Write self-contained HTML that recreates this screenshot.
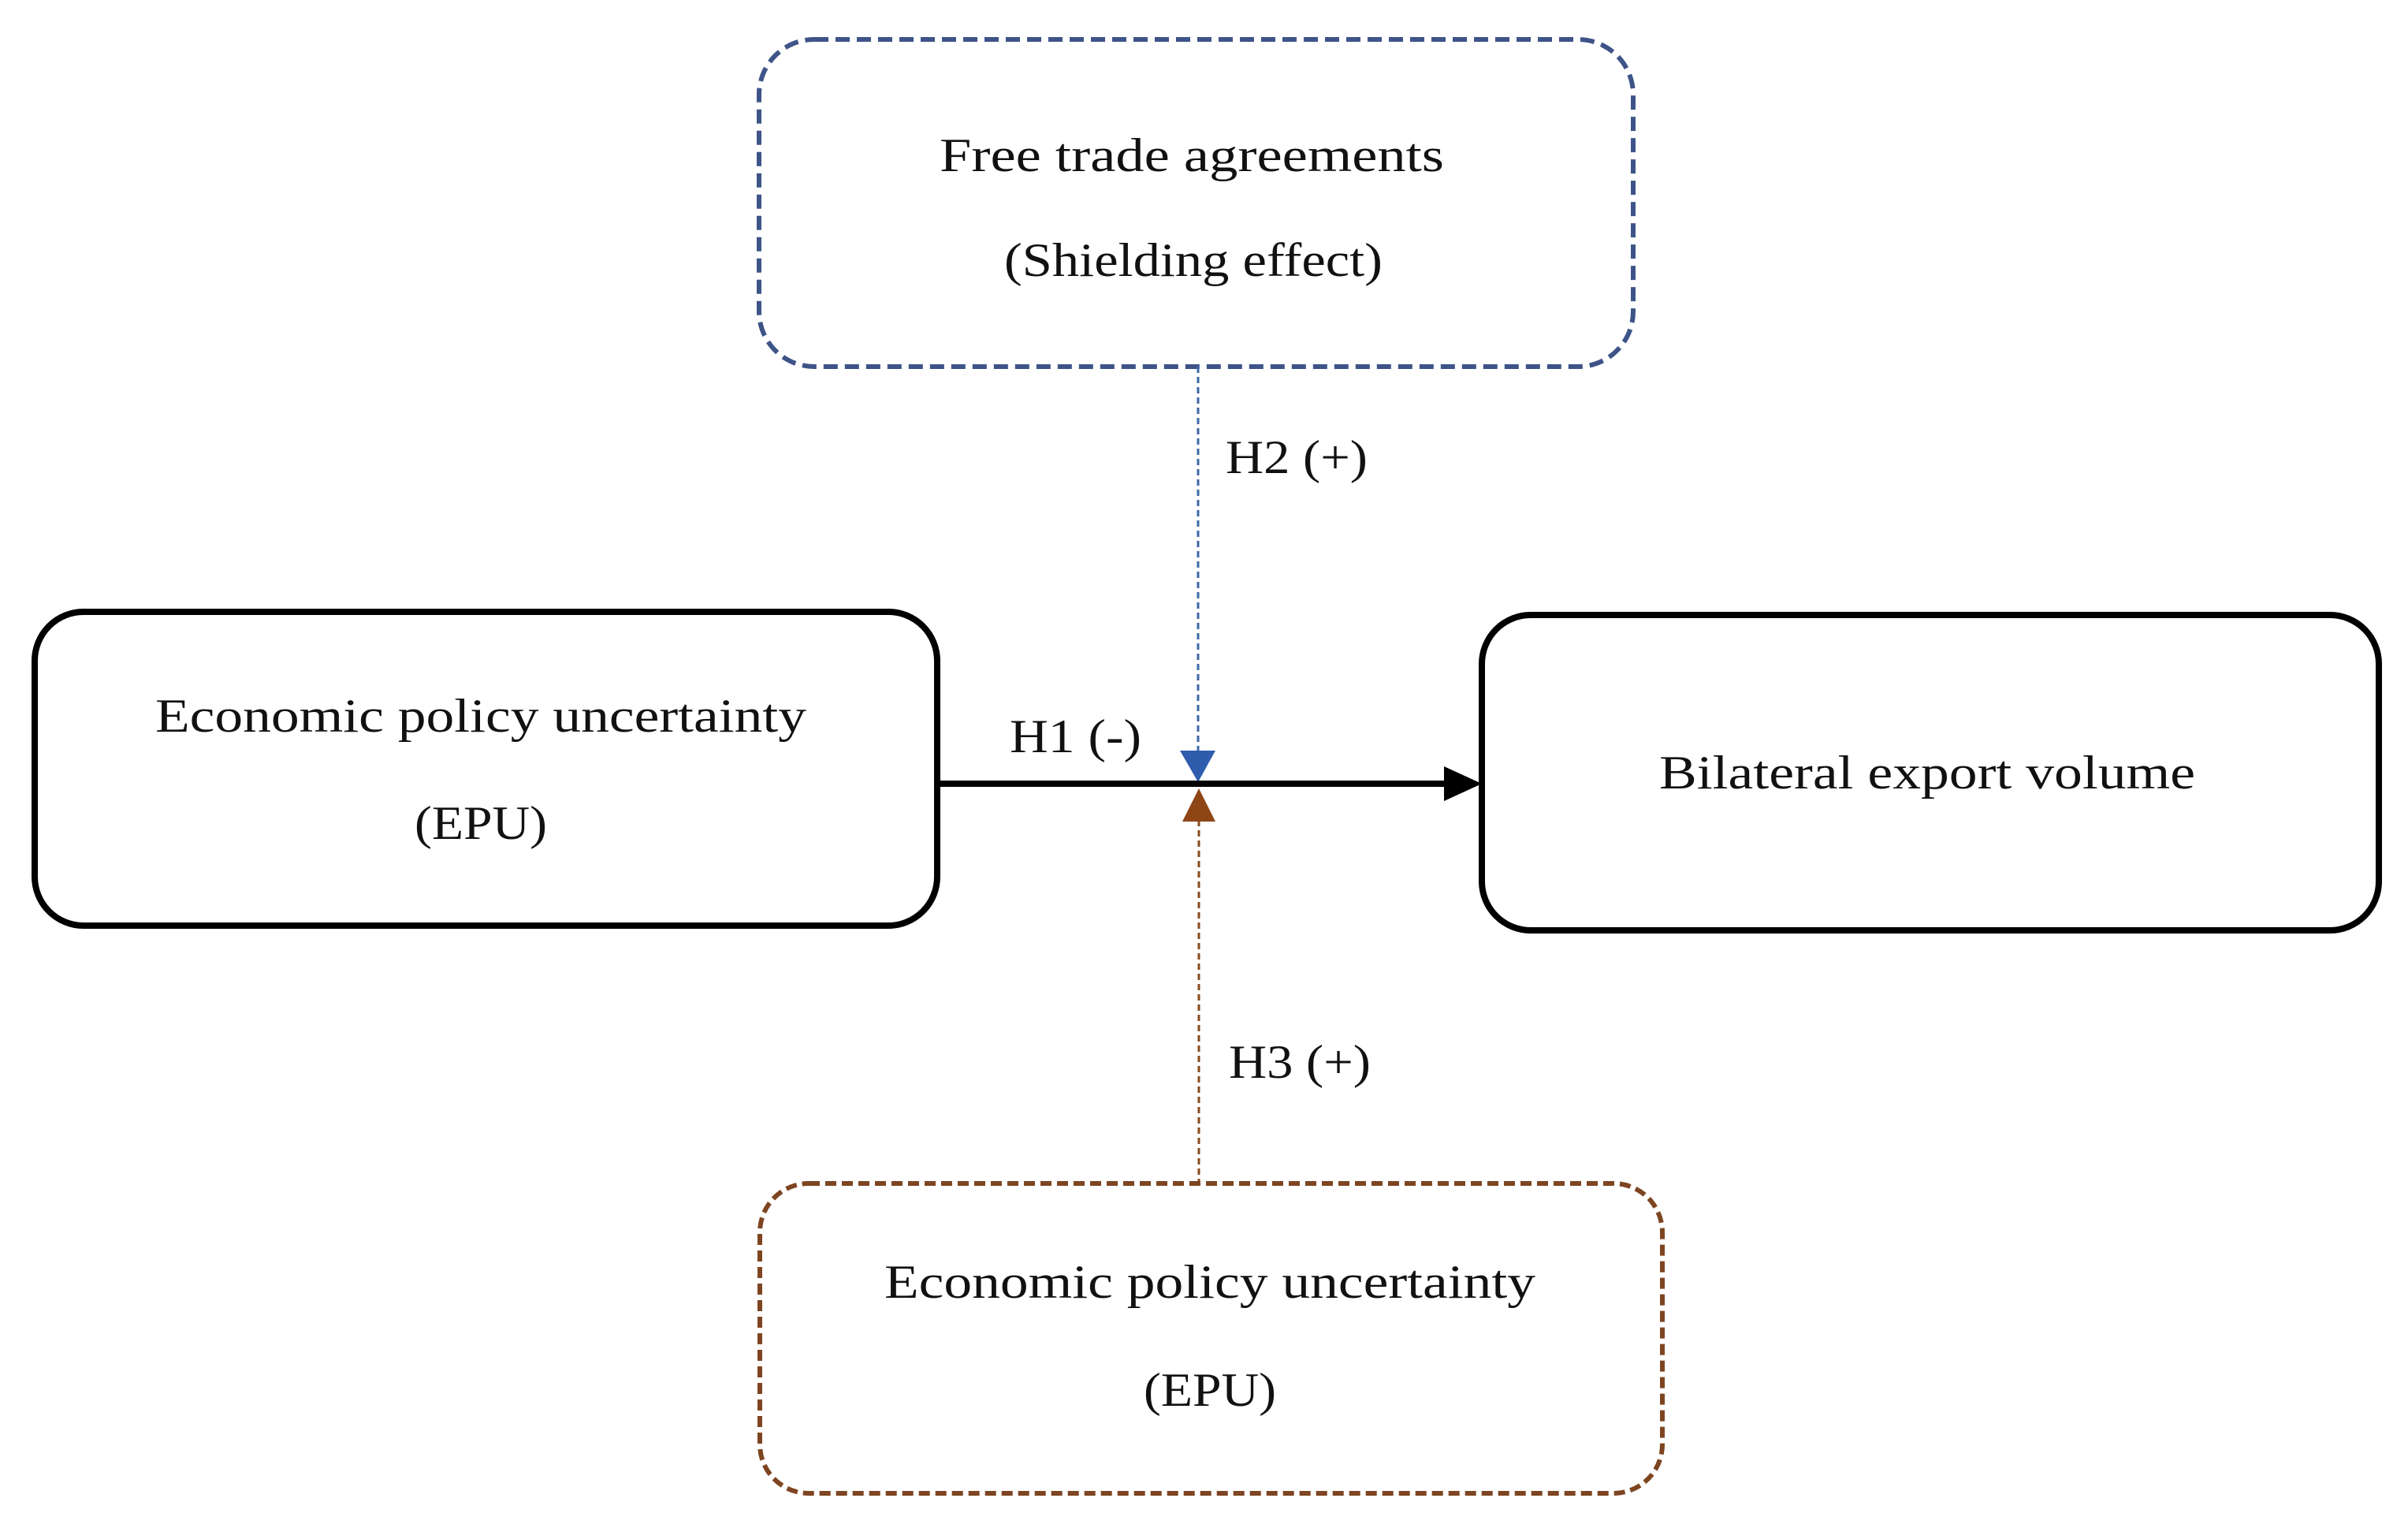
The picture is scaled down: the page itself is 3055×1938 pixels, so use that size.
<!DOCTYPE html>
<html><head><meta charset="utf-8"><style>
html,body{margin:0;padding:0;background:#fff;}
svg{display:block;}
text{font-family:"Liberation Serif",serif;fill:#111;}
</style></head><body>
<svg width="3055" height="1938" viewBox="0 0 3055 1938" xmlns="http://www.w3.org/2000/svg">
<rect width="3055" height="1938" fill="#fff"/>
<rect x="963" y="50" width="1109" height="415" rx="70" fill="none" stroke="#3e5488" stroke-width="6" stroke-dasharray="18,9"/>
<text x="1512" y="217" font-size="60" text-anchor="middle" textLength="640" lengthAdjust="spacingAndGlyphs">Free trade agreements</text>
<text x="1514" y="350" font-size="60" text-anchor="middle" textLength="480" lengthAdjust="spacingAndGlyphs">(Shielding effect)</text>
<line x1="1520" y1="465" x2="1520" y2="955" stroke="#3e68a8" stroke-width="3" stroke-dasharray="8,5"/>
<polygon points="1497,952 1542,952 1520,992" fill="#2f5cad"/>
<text x="1555" y="600" font-size="60" textLength="180" lengthAdjust="spacingAndGlyphs">H2 (+)</text>
<rect x="44" y="776" width="1145" height="398" rx="62" fill="none" stroke="#000" stroke-width="8"/>
<text x="610" y="928" font-size="60" text-anchor="middle" textLength="826" lengthAdjust="spacingAndGlyphs">Economic policy uncertainty</text>
<text x="610" y="1064" font-size="60" text-anchor="middle" textLength="168" lengthAdjust="spacingAndGlyphs">(EPU)</text>
<rect x="1880" y="780" width="1138" height="400" rx="62" fill="none" stroke="#000" stroke-width="8"/>
<text x="2445" y="1000" font-size="60" text-anchor="middle" textLength="680" lengthAdjust="spacingAndGlyphs">Bilateral export volume</text>
<line x1="1189" y1="994" x2="1838" y2="994" stroke="#000" stroke-width="8"/>
<polygon points="1832,972 1880,994 1832,1016" fill="#000"/>
<text x="1281" y="954" font-size="60" textLength="167" lengthAdjust="spacingAndGlyphs">H1 (-)</text>
<line x1="1521" y1="1040" x2="1521" y2="1500" stroke="#8a4a1c" stroke-width="3" stroke-dasharray="8,5"/>
<polygon points="1500,1042 1542,1042 1521,1000" fill="#8e4616"/>
<text x="1559" y="1367" font-size="60" textLength="180" lengthAdjust="spacingAndGlyphs">H3 (+)</text>
<rect x="964" y="1501" width="1145" height="393" rx="62" fill="none" stroke="#7d4521" stroke-width="6" stroke-dasharray="14,7"/>
<text x="1535" y="1646" font-size="60" text-anchor="middle" textLength="826" lengthAdjust="spacingAndGlyphs">Economic policy uncertainty</text>
<text x="1535" y="1783" font-size="60" text-anchor="middle" textLength="168" lengthAdjust="spacingAndGlyphs">(EPU)</text>
</svg>
</body></html>
